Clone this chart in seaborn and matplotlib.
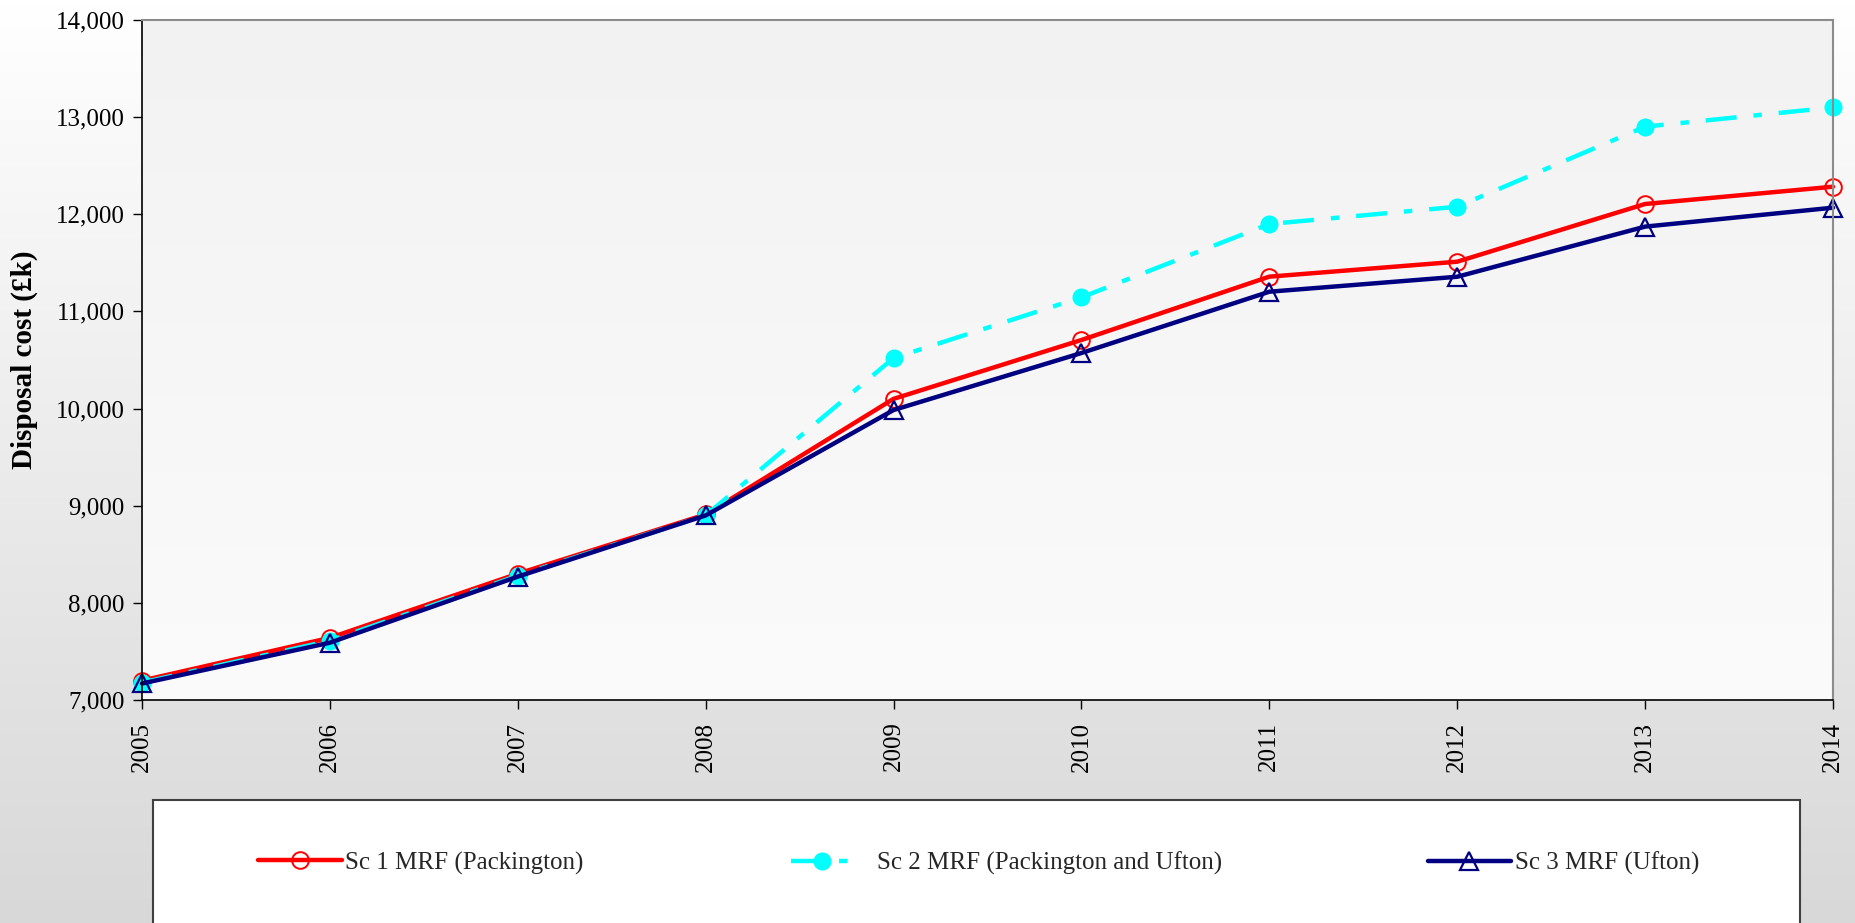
import numpy as np
import pandas as pd
import matplotlib
matplotlib.use("Agg")
import matplotlib.pyplot as plt
import seaborn as sns
from matplotlib.patches import Rectangle
from matplotlib.ticker import FuncFormatter

# Disposal cost (£k) per year for each MRF scenario
years = [2005, 2006, 2007, 2008, 2009, 2010, 2011, 2012, 2013, 2014]
sc1_packington = [7200, 7640, 8300, 8910, 10100, 10706, 11358, 11512, 12106, 12284]
sc2_packington_ufton = [7180, 7610, 8280, 8900, 10520, 11145, 11900, 12078, 12902, 13100]
sc3_ufton = [7170, 7590, 8270, 8900, 9985, 10572, 11203, 11357, 11873, 12068]

series_labels = ["Sc 1 MRF (Packington)",
                 "Sc 2 MRF (Packington and Ufton)",
                 "Sc 3 MRF (Ufton)"]
y_ticks = [7000, 8000, 9000, 10000, 11000, 12000, 13000, 14000]
y_label = "Disposal cost (£k)"

sns.set_theme(style="ticks")
plt.rcParams["font.family"] = ["Liberation Serif", "DejaVu Serif"]

W, H = 1856, 923
fig = plt.figure(figsize=(W / 100, H / 100), dpi=100)

# Figure background: vertical gradient white -> light grey
bg = fig.add_axes([0, 0, 1, 1], zorder=-10)
g = np.linspace(255, 216, 256) / 255.0
bg.imshow(np.dstack([g, g, g]).reshape(256, 1, 3), aspect="auto", extent=[0, 1, 0, 1])
bg.set_axis_off()

# Plot area
left, right, top, bottom = 142 / W, 1833 / W, 1 - 20 / H, 1 - 700 / H
rect = [left, bottom, right - left, top - bottom]
pg = fig.add_axes(rect, zorder=-5)
p = np.linspace(242, 251, 256) / 255.0
pg.imshow(np.dstack([p, p, p]).reshape(256, 1, 3), aspect="auto", extent=[0, 1, 0, 1])
pg.set_axis_off()

ax = fig.add_axes(rect)
ax.set_facecolor("none")

df = pd.DataFrame({"year": years, "sc1": sc1_packington,
                   "sc2": sc2_packington_ufton, "sc3": sc3_ufton})

lw = 3.2
sns.lineplot(data=df, x="year", y="sc1", ax=ax, color="#ff0000", lw=lw,
             marker="o", markersize=12, markerfacecolor="none",
             markeredgecolor="#ff0000", markeredgewidth=1.4,
             label=series_labels[0], clip_on=False, errorbar=None)
sns.lineplot(data=df, x="year", y="sc2", ax=ax, color="#00ffff", lw=lw,
             linestyle=(0, (7.0, 3.8, 1.9, 3.8)), dash_capstyle="butt",
             marker="o", markersize=12, markerfacecolor="#00ffff",
             markeredgecolor="#00ffff", markeredgewidth=1.0,
             label=series_labels[1], clip_on=False, errorbar=None)
sns.lineplot(data=df, x="year", y="sc3", ax=ax, color="#000080", lw=lw,
             marker="^", markersize=13.5, markerfacecolor="none",
             markeredgecolor="#000080", markeredgewidth=1.6,
             label=series_labels[2], clip_on=False, errorbar=None)

handles, labels = ax.get_legend_handles_labels()
ax.get_legend().remove()

ax.set_xlim(years[0], years[-1])
ax.set_ylim(y_ticks[0], y_ticks[-1])
ax.set_xticks(years)
ax.set_xticklabels([str(y) for y in years], rotation=90, fontsize=18)
ax.set_yticks(y_ticks)
ax.yaxis.set_major_formatter(FuncFormatter(lambda v, _: f"{int(v):,}"))
ax.tick_params(axis="y", labelsize=18, length=6.5, width=1, color="black",
               direction="out", pad=6)
ax.tick_params(axis="x", labelsize=18, length=6.5, width=1, color="black",
               direction="out", pad=9)
for lab in ax.get_yticklabels() + ax.get_xticklabels():
    lab.set_color("black")
ax.set_xlabel("")
ax.set_ylabel(y_label, fontsize=21, fontweight="bold", color="black")
ax.yaxis.set_label_coords(-0.0615, 0.5)

for side in ("left", "bottom"):
    ax.spines[side].set_color("black")
    ax.spines[side].set_linewidth(1.2)
for side in ("top", "right"):
    ax.spines[side].set_visible(True)
    ax.spines[side].set_color("#8c8c8c")
    ax.spines[side].set_linewidth(1.5)

# Legend panel
fig.add_artist(Rectangle((153 / W, -0.02), (1800 - 153) / W, (1 - 800 / H) + 0.02,
                         transform=fig.transFigure, facecolor="white",
                         edgecolor="#404040", linewidth=1.5, zorder=1))

leg_y = 1 - 863 / H
entries = [
    (258 / W, 3.36, 0.12),
    (791 / W, 2.52, 0.92),
    (1428 / W, 3.32, 0.18),
]
for (x0, hl, hp), h, lab in zip(entries, handles, labels):
    fig.legend(handles=[h], labels=[lab], loc="center left",
               bbox_to_anchor=(x0, leg_y), bbox_transform=fig.transFigure,
               frameon=False, fontsize=18, handlelength=hl, handletextpad=hp,
               borderpad=0, borderaxespad=0, numpoints=1)

fig.savefig("out.png", dpi=100)
